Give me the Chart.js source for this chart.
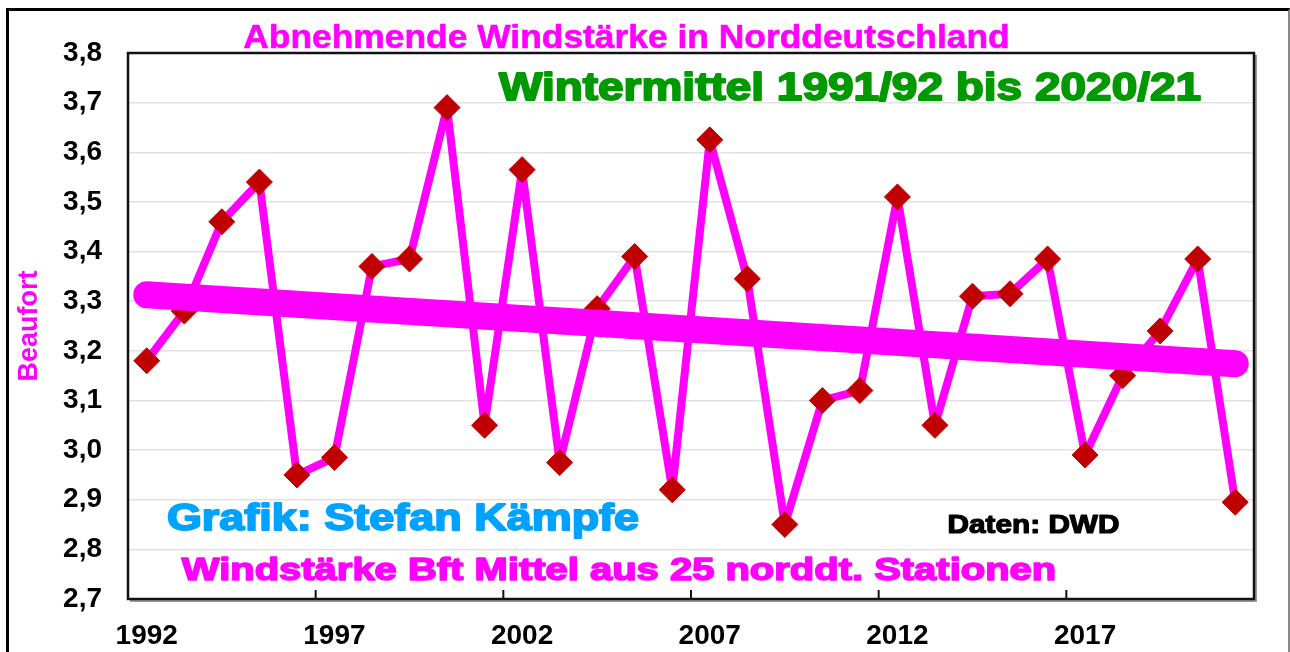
<!DOCTYPE html>
<html>
<head>
<meta charset="utf-8">
<script src="https://cdn.jsdelivr.net/npm/chart.js@4.4.1/dist/chart.umd.min.js"></script>
<style>
  body { margin: 0; background: #fff; }
  #frame {
    position: absolute; left: 6px; top: 8px; width: 1279px; height: 700px;
    border-top: 3px solid #000; border-left: 3px solid #000; border-right: 2px solid #888;
  }
  #myChart { position: absolute; left: 0; top: 0; }
</style>
</head>
<body>
<div id="frame"></div>
<canvas id="myChart" width="1290" height="652"></canvas>
<script>
// Winter means (Beaufort), 1991/92 .. 2020/21
let years = ['1992', '1993', '1994', '1995', '1996', '1997', '1998', '1999', '2000', '2001',
             '2002', '2003', '2004', '2005', '2006', '2007', '2008', '2009', '2010', '2011',
             '2012', '2013', '2014', '2015', '2016', '2017', '2018', '2019', '2020', '2021'];
let windBft = [3.18, 3.28, 3.46, 3.54, 2.95, 2.985, 3.37, 3.385, 3.69, 3.05,
               3.565, 2.975, 3.285, 3.39, 2.92, 3.625, 3.345, 2.85, 3.10, 3.12,
               3.51, 3.05, 3.31, 3.315, 3.385, 2.99, 3.15, 3.24, 3.385, 2.895];
// linear trend at both ends
let trendYears = ['1992', '2021'];
let trendBft = [3.313, 3.174];
let yMin = 2.7, yMax = 3.8, yStep = 0.1;

// heavy: extra outline to get the "black" font weight of the original
let notes = [
  { text: 'Abnehmende Windstärke in Norddeutschland', color: '#ff00ff', size: 34, x: 243, y: 48, w: 767, heavy: 0.6 },
  { text: 'Wintermittel 1991/92 bis 2020/21', color: '#009a00', size: 38, x: 498, y: 100, w: 704, heavy: 1.8 },
  { text: 'Grafik: Stefan Kämpfe', color: '#00a2ff', size: 37, x: 166, y: 530, w: 474, heavy: 1.8 },
  { text: 'Daten: DWD', color: '#000', size: 26, x: 947, y: 533, w: 173, heavy: 1.2 },
  { text: 'Windstärke Bft Mittel aus 25 norddt. Stationen', color: '#ff00ff', size: 32, x: 181, y: 580, w: 876, heavy: 1.6 }
];

// plot frame + short inner ticks every 5 years
let framePlugin = {
  id: 'frame',
  beforeDatasetsDraw(chart) {
    let ctx = chart.ctx, a = chart.chartArea, x = chart.scales.x;
    ctx.save();
    ctx.strokeStyle = '#999';
    ctx.lineWidth = 2;
    ctx.beginPath();
    ctx.moveTo(a.right + 2, a.top + 2);
    ctx.lineTo(a.right + 2, a.bottom + 2);
    ctx.lineTo(a.left + 2, a.bottom + 2);
    ctx.stroke();
    ctx.strokeStyle = '#111';
    ctx.lineWidth = 2.5;
    ctx.strokeRect(a.left, a.top, a.right - a.left, a.bottom - a.top);
    ctx.lineWidth = 2;
    for (let i = 5; i < years.length; i += 5) {
      let px = (x.getPixelForValue(i) + x.getPixelForValue(i - 1)) / 2;
      ctx.beginPath();
      ctx.moveTo(px, a.bottom);
      ctx.lineTo(px, a.bottom - 9);
      ctx.stroke();
    }
    ctx.restore();
  }
};

let notesPlugin = {
  id: 'notes',
  afterDraw(chart) {
    let ctx = chart.ctx;
    notes.forEach(n => {
      ctx.save();
      ctx.font = 'bold ' + n.size + 'px "Liberation Sans", Arial, sans-serif';
      ctx.fillStyle = n.color;
      ctx.strokeStyle = n.color;
      ctx.lineJoin = 'round';
      ctx.textAlign = 'left';
      ctx.textBaseline = 'alphabetic';
      let sx = (n.w - n.heavy) / ctx.measureText(n.text).width;
      ctx.translate(n.x + n.heavy / 2, n.y);
      ctx.scale(sx, 1);
      ctx.lineWidth = n.heavy;
      ctx.fillText(n.text, 0, 0);
      ctx.strokeText(n.text, 0, 0);
      ctx.restore();
    });
  }
};

let myChart = document.getElementById('myChart').getContext('2d');

let windChart = new Chart(myChart, {
  type: 'line',
  data: {
    labels: years,
    datasets: [{
      label: 'Trend',
      data: trendYears.map((y, i) => ({ x: y, y: trendBft[i] })),
      borderColor: '#ff00ff',
      borderWidth: 27,
      borderCapStyle: 'round',
      pointRadius: 0,
      order: 0
    }, {
      label: 'Windstärke',
      data: windBft,
      borderColor: '#ff00ff',
      borderWidth: 8,
      borderJoinStyle: 'round',
      pointStyle: 'rectRot',
      pointRadius: 13,
      pointBackgroundColor: '#c00000',
      pointBorderColor: '#c00000',
      pointBorderWidth: 1,
      order: 1
    }]
  },
  options: {
    responsive: false,
    animation: false,
    devicePixelRatio: 1,
    layout: { padding: { left: 0, top: 53, right: 36, bottom: 0 } },
    plugins: { legend: { display: false }, tooltip: { enabled: false } },
    scales: {
      x: {
        type: 'category',
        offset: true,
        grid: { display: false, drawTicks: false },
        border: { display: false },
        ticks: {
          autoSkip: false,
          maxRotation: 0,
          padding: 20,
          color: '#000',
          font: { family: '"Liberation Sans", Arial, sans-serif', size: 28, weight: 'bold' },
          callback: function (v, i) { return i % 5 === 0 ? this.getLabelForValue(v) : ''; }
        },
        afterFit(scale) { scale.height = 53; }
      },
      y: {
        min: yMin,
        max: yMax,
        grid: { color: '#e2e2e2', lineWidth: 1.5, drawTicks: false },
        border: { display: false },
        ticks: {
          stepSize: yStep,
          padding: 26,
          color: '#000',
          font: { family: '"Liberation Sans", Arial, sans-serif', size: 28, weight: 'bold' },
          callback: v => v.toFixed(1).replace('.', ',')
        },
        title: {
          display: true,
          text: 'Beaufort',
          color: '#ff00ff',
          padding: { top: 13, bottom: 0 },
          font: { family: '"Liberation Sans", Arial, sans-serif', size: 27, weight: 'bold' }
        },
        afterFit(scale) { scale.width = 128; }
      }
    }
  },
  plugins: [framePlugin, notesPlugin]
});
</script>
</body>
</html>
